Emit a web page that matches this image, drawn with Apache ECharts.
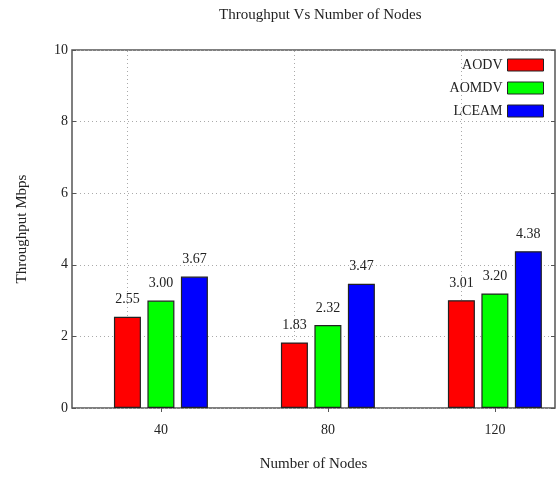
<!DOCTYPE html>
<html>
<head>
<meta charset="utf-8">
<script src="https://cdn.jsdelivr.net/npm/echarts@6/dist/echarts.min.js"></script>
<style>html,body{margin:0;padding:0;background:#fff}#c{width:560px;height:477px}</style>
</head>
<body>
<div id="c"></div>
<script>
var categories = [40, 80, 120];
var seriesNames = ['AODV', 'AOMDV', 'LCEAM'];
var aodv = [2.55, 1.83, 3.01];
var aomdv = [3.00, 2.32, 3.20];
var lceam = [3.67, 3.47, 4.38];
var colors = ['#ff0000', '#00ff00', '#0000ff'];

var font = 'Liberation Serif';
var chart = echarts.init(document.getElementById('c'));
function mk(name, vals, color, idx) {
  var s = {
    name: name,
    type: 'bar',
    barWidth: 27,
    barGap: '24%',
    data: categories.map(function (c, i) { return [c, vals[i]]; }),
    itemStyle: { color: color, borderColor: '#222', borderWidth: 1.2 },
    label: {
      show: true, position: 'top', distance: 10,
      formatter: function (p) { return p.value[1].toFixed(2); },
      fontFamily: font, fontSize: 14, color: '#222'
    },
    z: 3
  };
  if (idx === 0) {
    s.markLine = {
      silent: true, symbol: 'none', z: 1,
      label: { show: false },
      lineStyle: { color: '#aaa', type: [1, 3], width: 1 },
      data: categories.map(function (c) { return { xAxis: c }; })
    };
  }
  return s;
}
chart.setOption({
  animation: false,
  color: colors,
  title: {
    text: 'Throughput Vs Number of Nodes', left: 214, top: 3,
    textStyle: { fontFamily: font, fontSize: 15, fontWeight: 'normal', color: '#222' }
  },
  legend: {
    right: 11, top: 53, orient: 'vertical', align: 'right',
    itemWidth: 36, itemHeight: 12, itemGap: 9,
    icon: 'rect',
    itemStyle: { borderColor: '#222', borderWidth: 1 },
    textStyle: { fontFamily: font, fontSize: 14, color: '#222' },
    data: seriesNames
  },
  grid: { left: 72, top: 50, right: 5, bottom: 61, show: true, borderColor: '#555', borderWidth: 1.5 },
  xAxis: [{
    type: 'value', min: 18.7, max: 134.4,
    name: 'Number of Nodes', nameLocation: 'middle', nameGap: 49,
    nameTextStyle: { fontFamily: font, fontSize: 15, color: '#222' },
    axisLine: { show: false },
    axisTick: { show: true, inside: true, length: 4, customValues: categories, lineStyle: { color: '#555' } },
    axisLabel: { customValues: categories, fontFamily: font, fontSize: 14, color: '#222', margin: 15 },
    splitLine: { show: false }
  }, {
    type: 'value', min: 18.7, max: 134.4, position: 'top',
    axisLine: { show: false },
    axisTick: { show: true, inside: true, length: 4, customValues: categories, lineStyle: { color: '#555' } },
    axisLabel: { show: false },
    splitLine: { show: false }
  }],
  yAxis: [{
    type: 'value', min: 0, max: 10, interval: 2,
    name: 'Throughput Mbps', nameLocation: 'middle', nameGap: 42,
    nameTextStyle: { fontFamily: font, fontSize: 15, color: '#222' },
    axisLine: { show: false },
    axisTick: { show: true, inside: true, length: 4, lineStyle: { color: '#555' } },
    axisLabel: { fontFamily: font, fontSize: 14, color: '#222', margin: 4 },
    splitLine: { show: true, lineStyle: { color: '#aaa', type: [1, 3] } }
  }, {
    type: 'value', min: 0, max: 10, interval: 2, position: 'right',
    axisLine: { show: false },
    axisTick: { show: true, inside: true, length: 4, lineStyle: { color: '#555' } },
    axisLabel: { show: false },
    splitLine: { show: false }
  }],
  series: [mk(seriesNames[0], aodv, colors[0], 0), mk(seriesNames[1], aomdv, colors[1], 1), mk(seriesNames[2], lceam, colors[2], 2)]
});
</script>
</body>
</html>
